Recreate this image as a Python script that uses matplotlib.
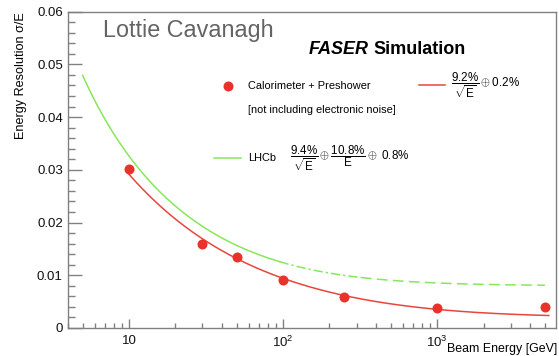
import numpy as np
import matplotlib
matplotlib.use("Agg")
import matplotlib.pyplot as plt
from matplotlib.ticker import LogLocator, FixedLocator, MultipleLocator, FuncFormatter, NullFormatter

plt.rcParams['font.family'] = ['Liberation Sans', 'DejaVu Sans']
plt.rcParams['mathtext.fontset'] = 'custom'
plt.rcParams['mathtext.rm'] = 'Liberation Sans'
plt.rcParams['mathtext.it'] = 'Liberation Sans:italic'
plt.rcParams['mathtext.bf'] = 'Liberation Sans:bold'

# simulated points
energy = [10, 30, 50, 100, 250, 1000, 5000]
resolution = [0.0301, 0.0160, 0.0135, 0.0091, 0.0058, 0.0037, 0.0039]

# fit terms: stochastic, noise, constant
faser_a, faser_c = 0.092, 0.002
lhcb_a, lhcb_b, lhcb_c = 0.094, 0.108, 0.008

red = '#e8322b'
redline = '#e8463c'
green = '#86e859'
gray = '#808080'

fig = plt.figure(figsize=(5.59, 3.56), dpi=100)
ax = fig.add_axes([0.121, 0.0787, 0.8736, 0.8885])

e_fit = np.geomspace(10, 5300, 300)
ax.plot(e_fit, np.sqrt(faser_a**2 / e_fit + faser_c**2), color=redline, lw=1.1, zorder=2)

def lhcb(e):
    return np.sqrt(lhcb_a**2 / e + (lhcb_b / e)**2 + lhcb_c**2)

e1 = np.geomspace(5, 95, 200)
e2 = np.geomspace(95, 320, 100)
e3 = np.geomspace(320, 5000, 200)
ax.plot(e1, lhcb(e1), color=green, lw=1.1, zorder=1)
ax.plot(e2, lhcb(e2), color=green, lw=1.1, dashes=(6, 2, 1.5, 2), zorder=1)
ax.plot(e3, lhcb(e3), color=green, lw=1.1, dashes=(7, 3.5), zorder=1)

ax.plot(energy, resolution, 'o', color=red, ms=7.2, mec='none', zorder=3)

ax.set_xscale('log')
ax.set_xlim(4, 5900)
ax.set_ylim(0, 0.06)

ax.xaxis.set_major_locator(FixedLocator([10, 100, 1000]))
ax.xaxis.set_major_formatter(FuncFormatter(
    lambda v, p: '10' if v == 10 else r'$10^{%d}$' % round(np.log10(v))))
ax.xaxis.set_minor_locator(LogLocator(base=10, subs=np.arange(2, 10)))
ax.xaxis.set_minor_formatter(NullFormatter())
ax.yaxis.set_major_locator(MultipleLocator(0.01))
ax.yaxis.set_minor_locator(MultipleLocator(0.002))
ax.yaxis.set_major_formatter(FuncFormatter(lambda v, p: '0' if v == 0 else '%.2f' % v))

ax.tick_params(axis='both', which='both', direction='in', color=gray,
               labelsize=9.5, labelcolor='#111111', top=False, right=False)
ax.tick_params(axis='y', which='major', length=10, width=1)
ax.tick_params(axis='y', which='minor', length=5, width=1)
ax.tick_params(axis='x', which='major', length=6.5, width=1, pad=5)
ax.tick_params(axis='x', which='minor', length=3.6, width=1)
for s in ax.spines.values():
    s.set_color(gray)
    s.set_linewidth(1)

fig.text(21 / 559, (356 - 12) / 356, 'Energy Resolution \u03c3/E', rotation=90,
         ha='center', va='top', fontsize=9.1)
fig.text(557 / 559, 0.002, 'Beam Energy [GeV]', ha='right', va='bottom', fontsize=8.9)

ax.text(0.072, 0.919, 'Lottie Cavanagh', transform=ax.transAxes, fontsize=16.8,
        color='#646464', va='baseline')
faser = ax.text(0.494, 0.866, 'FASER', transform=ax.transAxes, fontsize=13,
                fontweight='bold', fontstyle='italic', va='baseline')
ax.annotate('Simulation', xy=(1, 0), xycoords=faser, xytext=(3.5, 0),
            textcoords='offset points', fontsize=13, fontweight='bold', va='bottom')

# legend block
ax.plot([0.328], [0.765], 'o', color=red, ms=7.2, mec='none', transform=ax.transAxes)
ax.text(0.369, 0.765, 'Calorimeter + Preshower', transform=ax.transAxes,
        fontsize=7.9, va='center')
ax.text(0.369, 0.689, '[not including electronic noise]', transform=ax.transAxes,
        fontsize=7.9, va='center')
ax.plot([0.720, 0.773], [0.768, 0.768], color=redline, lw=1.1, transform=ax.transAxes)
ax.text(0.785, 0.768, r'$\dfrac{9.2\%}{\sqrt{\mathrm{E}}}\oplus 0.2\%$', transform=ax.transAxes,
        fontsize=8.4, va='center')
ax.plot([0.300, 0.355], [0.537, 0.537], color=green, lw=1.1, transform=ax.transAxes)
ax.text(0.369, 0.537, 'LHCb', transform=ax.transAxes, fontsize=7.9, va='center')
ax.text(0.455, 0.537, r'$\dfrac{9.4\%}{\sqrt{\mathrm{E}}}\oplus\dfrac{10.8\%}{\mathrm{E}}\oplus\ 0.8\%$',
        transform=ax.transAxes, fontsize=8.4, va='center')

fig.savefig('out.png', dpi=100)
